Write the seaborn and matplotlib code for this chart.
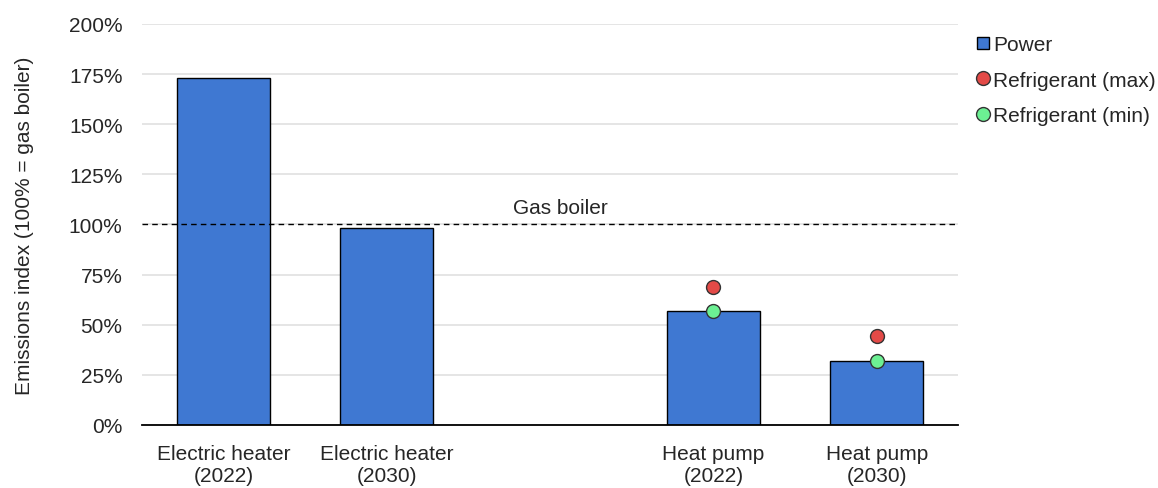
import numpy as np
import pandas as pd
import matplotlib
matplotlib.use("Agg")
import matplotlib.pyplot as plt
import seaborn as sns
from matplotlib.lines import Line2D
from matplotlib.ticker import PercentFormatter

# Data
categories = ["Electric heater\n(2022)", "Electric heater\n(2030)", " ",
              "Heat pump\n(2022)", "Heat pump\n(2030)"]
power = [173, 98, np.nan, 57, 32]
refrigerant_max = [np.nan, np.nan, np.nan, 69, 44.5]
refrigerant_min = [np.nan, np.nan, np.nan, 57, 32]
gas_boiler = 100

df = pd.DataFrame({"category": categories, "power": power,
                   "rmax": refrigerant_max, "rmin": refrigerant_min})

sns.set_style("white")
plt.rcParams["font.family"] = ["Liberation Sans", "DejaVu Sans"]
fs = 15

fig = plt.figure(figsize=(11.58, 4.89), dpi=100)
ax = fig.add_axes([0.1226, 0.129, 0.705, 0.82])

bar_color = "#3f78d2"
sns.barplot(data=df, x="category", y="power", order=categories,
            color=bar_color, saturation=1, width=0.57,
            edgecolor="black", linewidth=1, ax=ax, zorder=2)

# Refrigerant markers
sns.stripplot(data=df, x="category", y="rmax", order=categories,
              jitter=False, color="#e34a47", size=10,
              edgecolor="#333333", linewidth=1, ax=ax, zorder=4)
sns.stripplot(data=df, x="category", y="rmin", order=categories,
              jitter=False, color="#6cf093", size=10,
              edgecolor="#333333", linewidth=1, ax=ax, zorder=4)

# Gas boiler reference line
ax.axhline(gas_boiler, color="black", linestyle=(0, (4, 3)), linewidth=1, zorder=3)
ax.text(2.06, gas_boiler + 3.5, "Gas boiler", ha="center", va="bottom", fontsize=fs)

ax.set_xlim(-0.5, 4.5)
ax.set_ylim(0, 200)
ax.set_yticks(np.arange(0, 201, 25))
ax.yaxis.set_major_formatter(PercentFormatter(decimals=0))
ax.yaxis.grid(True, color="#e0e0e0", linewidth=1.2, zorder=0)
ax.set_axisbelow(True)
ax.set_xlabel("")
ax.set_ylabel("Emissions index (100% = gas boiler)", fontsize=fs, labelpad=25)
ax.tick_params(axis="y", length=0, labelsize=fs, pad=14)
ax.tick_params(axis="x", length=0, labelsize=fs, pad=14)
for side in ["left", "right", "top"]:
    ax.spines[side].set_visible(False)
ax.spines["bottom"].set_color("black")
ax.spines["bottom"].set_linewidth(1.3)

handles = [
    Line2D([], [], marker="s", linestyle="none", markersize=9,
           markerfacecolor=bar_color, markeredgecolor="black", label="Power"),
    Line2D([], [], marker="o", linestyle="none", markersize=10,
           markerfacecolor="#e34a47", markeredgecolor="#333333", label="Refrigerant (max)"),
    Line2D([], [], marker="o", linestyle="none", markersize=10,
           markerfacecolor="#6cf093", markeredgecolor="#333333", label="Refrigerant (min)"),
]
fig.legend(handles=handles, loc="upper left", bbox_to_anchor=(0.8245, 0.965),
           frameon=False, fontsize=fs, handletextpad=0.05, labelspacing=0.8,
           handlelength=0.9)

fig.savefig("out.png", dpi=100)
